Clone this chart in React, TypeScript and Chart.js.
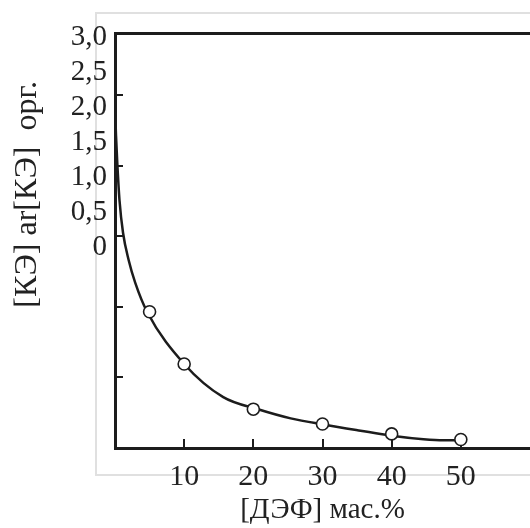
import React, { useEffect, useRef } from "react";
import { Chart, registerables } from "chart.js";

Chart.register(...registerables);

// measured points: x = [ДЭФ] мас.%, y in plot units (unlabelled main axis)
const xValues = [5, 10, 20, 30, 40, 50];
const yValues = [1.93, 1.19, 0.55, 0.34, 0.2, 0.12];

// fitted curve drawn through the points
const curveX = [0, 0.145, 0.33, 0.65, 1.16, 1.98, 2.93, 4.64, 10, 15.65, 20.8, 25.4, 30.3, 35.5, 40, 44.6, 47.5, 50.4];
const curveY = [4.83, 4.43, 4.04, 3.51, 3.05, 2.66, 2.34, 1.93, 1.19, 0.72, 0.545, 0.42, 0.33, 0.245, 0.175, 0.125, 0.11, 0.11];

const xTickValues = [10, 20, 30, 40, 50];
const yTickValues = [1, 2, 3, 4, 5];
const yLabelValues = [0, 0.5, 1, 1.5, 2, 2.5, 3];
const yLabelTexts = ["0", "0,5", "1,0", "1,5", "2,0", "2,5", "3,0"];

const xTitle = "[ДЭФ] мас.%";
const yTitle = "[КЭ] ar[КЭ]  орг.";

const INK = "#1c1c1c";
const FONT = "'Liberation Serif', 'DejaVu Serif', serif";

const noPad = (s: any) => {
  s.paddingLeft = 0;
  s.paddingRight = 0;
  s.paddingTop = 0;
  s.paddingBottom = 0;
};

// light figure frame behind the plot (open on the right, beyond the picture)
const framePlugin = {
  id: "figureFrame",
  beforeDraw(chart: any) {
    const ctx = chart.ctx;
    ctx.save();
    ctx.strokeStyle = "#e0e0e0";
    ctx.lineWidth = 2;
    ctx.beginPath();
    ctx.moveTo(chart.width, 13);
    ctx.lineTo(96, 13);
    ctx.lineTo(96, 475);
    ctx.lineTo(chart.width, 475);
    ctx.stroke();
    ctx.restore();
  },
};

export default function App() {
  const ref = useRef<HTMLCanvasElement | null>(null);

  useEffect(() => {
    if (!ref.current) return;
    const chart = new Chart(ref.current, {
      type: "line",
      data: {
        datasets: [
          {
            label: "points",
            data: xValues.map((x, i) => ({ x, y: yValues[i] })),
            showLine: false,
            pointRadius: 6,
            pointBackgroundColor: "#ffffff",
            pointBorderColor: INK,
            pointBorderWidth: 1.6,
            xAxisID: "x",
            yAxisID: "y",
          },
          {
            label: "curve",
            data: curveX.map((x, i) => ({ x, y: curveY[i] })),
            borderColor: INK,
            borderWidth: 2.5,
            pointRadius: 0,
            cubicInterpolationMode: "monotone",
            xAxisID: "x",
            yAxisID: "y",
          },
        ],
      },
      options: {
        responsive: false,
        animation: false,
        layout: { padding: { left: 0, top: 0, bottom: 0, right: 70 } },
        plugins: { legend: { display: false }, tooltip: { enabled: false } },
        scales: {
          x: {
            type: "linear",
            axis: "x",
            position: "bottom",
            min: 0,
            max: 60,
            afterBuildTicks: (s: any) => {
              s.ticks = xTickValues.map((v) => ({ value: v }));
            },
            afterFit: (s: any) => {
              s.height = 80;
              noPad(s);
            },
            border: { display: true, color: INK, width: 3 },
            grid: { drawOnChartArea: false, drawTicks: true, tickLength: -9, color: INK, lineWidth: 2 },
            ticks: {
              autoSkip: false,
              maxRotation: 0,
              padding: 20,
              color: "#222",
              font: { family: FONT, size: 30 },
              callback: (v: any) => String(v),
            },
            title: {
              display: true,
              text: xTitle,
              color: "#222",
              font: { family: FONT, size: 29 },
              padding: { top: 0, bottom: 0 },
            },
          },
          xTop: {
            type: "linear",
            axis: "x",
            position: "top",
            min: 0,
            max: 60,
            afterFit: (s: any) => {
              s.height = 33;
              noPad(s);
            },
            border: { display: true, color: INK, width: 3 },
            grid: { display: false, drawTicks: false },
            ticks: { display: false },
          },
          y: {
            type: "linear",
            axis: "y",
            position: "left",
            weight: 0,
            min: 0,
            max: 5.88,
            afterBuildTicks: (s: any) => {
              s.ticks = yTickValues.map((v) => ({ value: v }));
            },
            afterFit: (s: any) => {
              s.width = 0;
              noPad(s);
            },
            border: { display: true, color: INK, width: 3 },
            grid: { drawOnChartArea: false, drawTicks: true, tickLength: -8, color: INK, lineWidth: 2 },
            ticks: { display: false },
          },
          y2: {
            type: "linear",
            axis: "y",
            position: "left",
            weight: 1,
            min: -2.871,
            max: 3.057,
            afterBuildTicks: (s: any) => {
              s.ticks = yLabelValues.map((v) => ({ value: v }));
            },
            afterFit: (s: any) => {
              s.width = 115;
              noPad(s);
            },
            border: { display: false },
            grid: { display: false, drawTicks: false },
            ticks: {
              autoSkip: false,
              padding: 8,
              color: "#222",
              font: { family: FONT, size: 29 },
              callback: (v: any) => {
                const i = yLabelValues.indexOf(Number(v));
                return i >= 0 ? yLabelTexts[i] : "";
              },
            },
            title: {
              display: true,
              text: yTitle + "      ",
              align: "end",
              color: "#222",
              font: { family: FONT, size: 32 },
              padding: { top: 8, bottom: 0 },
            },
          },
        },
      },
      plugins: [framePlugin],
    } as any);
    return () => chart.destroy();
  }, []);

  return (
    <div
      style={{
        position: "fixed",
        left: 0,
        top: 0,
        width: 530,
        height: 528,
        overflow: "hidden",
        background: "#ffffff",
      }}
    >
      <canvas ref={ref} width={600} height={528} style={{ position: "absolute", left: 0, top: 0 }} />
    </div>
  );
}
